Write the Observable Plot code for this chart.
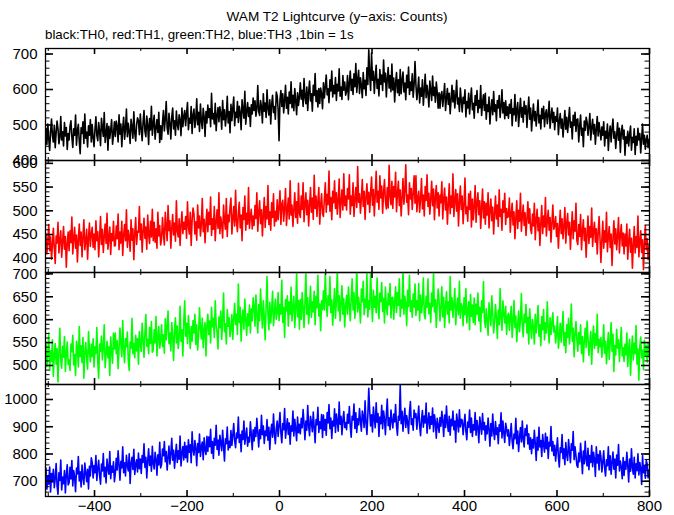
<!DOCTYPE html>
<html><head><meta charset="utf-8">
<script src="https://cdn.jsdelivr.net/npm/d3@7"></script>
<script src="https://cdn.jsdelivr.net/npm/@observablehq/plot@0.6"></script>
<style>
body{margin:0;background:#fff;}
#wrap{position:relative;width:674px;height:515px;background:#fff;overflow:hidden;font-family:"Liberation Sans",Arial,Helvetica,sans-serif;color:#000;}
#title{position:absolute;left:0;width:674px;top:10px;line-height:14px;text-align:center;font-size:13.6px;}
#sub{position:absolute;left:45px;top:28px;line-height:14px;font-size:13.3px;white-space:nowrap;}
</style></head>
<body><div id="wrap"><div id="title">WAM T2 Lightcurve (y−axis: Counts)</div><div id="sub">black:TH0, red:TH1, green:TH2, blue:TH3 ,1bin = 1s</div></div>
<script>
// time bins (s)
const tStart = -505, tEnd = 799;
const xDomain = [-506, 800];
const xMajor = [-400, -200, 0, 200, 400, 600, 800];
const xMinor = [-500, -300, -100, 100, 300, 500, 700];

// TH0 (black) counts
const th0 = [490,445,503,461,428,482,517,470,452,499,436,478,511,489,447,465,524,458,481,441,507,469,493,431,476,
458,497,512,466,437,489,471,528,443,484,502,455,419,492,476,509,448,531,463,480,438,498,471,515,452,
501,464,439,488,523,471,456,507,483,442,519,492,468,535,451,477,504,429,496,462,487,515,446,473,509,
468,511,497,452,529,474,503,439,491,522,460,488,545,467,505,481,448,516,494,463,537,478,455,501,520,
512,473,531,489,456,508,541,482,467,525,499,445,518,486,553,471,504,527,460,492,515,479,536,451,498,
459,507,541,483,516,566,492,474,533,505,461,522,548,489,512,471,539,501,487,529,513,470,548,495,524,
541,498,532,563,487,519,505,552,476,528,545,493,517,574,501,536,482,559,511,490,547,523,468,538,506,
556,521,546,495,589,517,532,503,561,484,527,549,509,551,532,488,569,515,543,497,524,581,506,538,478,
558,512,547,579,498,536,521,566,507,553,534,487,571,543,519,595,502,538,563,524,549,496,557,531,576,
541,568,525,547,611,538,527,569,551,506,588,539,562,521,599,546,528,571,503,557,584,535,552,516,593,
582,543,456,571,597,552,588,534,569,612,547,578,531,593,561,622,549,584,540,603,568,529,591,555,579,
619,573,598,552,631,578,560,607,541,593,624,568,588,539,612,583,645,566,597,551,603,561,604,587,546,
619,576,608,641,585,602,563,627,596,652,579,611,588,634,569,615,596,658,581,607,572,639,598,621,584,
595,639,571,618,652,597,629,586,644,608,673,592,627,654,589,633,611,577,648,602,626,583,661,614,712,
641,597,703,626,651,589,634,668,603,629,582,656,615,641,597,683,621,646,579,631,662,604,639,594,672,
599,632,565,618,648,591,627,583,656,588,627,649,593,618,571,640,605,663,586,621,597,644,578,613,679,
612,571,599,635,562,604,581,627,556,598,643,577,612,589,551,624,597,569,638,583,606,564,621,592,547,
591,547,585,594,552,583,617,541,576,603,558,589,532,571,612,565,597,548,581,626,559,576,538,604,569,
537,578,561,599,523,566,548,589,531,572,604,543,561,519,583,556,597,535,569,548,611,527,563,585,541,
589,516,557,538,579,503,546,571,529,594,538,557,512,569,548,583,521,552,599,534,563,518,568,527,551,
519,558,533,572,498,546,529,586,511,541,563,496,537,575,522,549,508,567,531,554,493,541,579,516,548,
483,525,559,512,538,497,531,570,506,527,489,546,518,553,495,532,543,504,529,567,491,522,548,507,536,
487,524,511,548,473,509,532,491,517,466,503,541,488,522,479,513,549,494,508,461,527,499,536,482,515,
517,452,496,528,471,491,439,511,485,522,509,471,497,532,458,493,516,475,501,446,488,524,469,507,483,
458,494,471,509,441,482,463,503,428,476,497,452,489,517,463,481,434,472,506,457,491,423,478,499,461,
486,415,467,449,482,441,473,497,429,465,451,489,417,468,443,491,458,476,421,462,503,446,471,432,458,
471,436,458];

// TH1 (red) counts
const th1 = [452,409,437,471,416,445,398,428,463,421,389,447,432,476,411,439,458,402,435,467,419,446,381,431,455,
416,458,433,487,409,442,465,421,449,392,438,472,427,455,403,446,481,418,436,461,398,443,474,425,451,
465,423,451,418,479,437,456,403,444,488,429,461,412,447,472,431,495,419,443,466,408,452,437,478,426,
427,468,441,493,418,455,432,478,406,449,471,437,502,423,459,444,415,481,438,462,397,451,486,429,457,
455,509,439,472,413,458,484,442,466,419,491,451,431,478,445,503,437,476,434,462,421,497,447,469,428,
441,486,452,428,497,466,437,511,458,479,421,463,492,449,474,436,521,457,445,483,427,469,498,452,476,
461,488,442,519,468,451,497,427,479,506,493,451,477,438,512,464,489,447,471,526,456,482,433,474,503,
456,497,471,529,448,483,461,509,437,476,502,463,538,452,487,471,443,512,479,461,526,446,491,477,508,
527,451,484,509,468,543,477,456,496,518,464,491,437,507,482,531,459,495,472,549,463,488,503,462,489,
469,511,484,538,457,496,521,473,502,447,491,528,465,509,483,553,471,498,459,517,486,536,468,499,478,
523,481,508,542,471,514,522,478,506,547,469,501,527,483,563,491,512,467,503,538,486,519,474,558,495,
486,531,503,559,477,514,538,492,522,468,511,549,497,527,482,575,505,531,488,519,549,472,513,536,494,
488,526,559,497,535,513,584,499,528,481,541,517,563,505,538,493,521,567,486,519,544,502,578,511,531,
502,547,525,576,493,531,511,559,488,523,549,507,593,518,536,495,527,566,509,541,482,529,557,514,539,
497,538,571,512,545,489,534,583,518,541,503,574,527,552,495,538,566,521,504,549,506,596,531,513,562,
505,551,529,581,498,536,562,511,544,489,527,568,514,541,597,518,533,492,559,525,547,503,536,574,516,
574,498,527,541,497,526,568,504,533,489,551,522,576,509,537,493,524,562,511,546,481,529,553,506,538,
489,533,517,561,483,524,548,502,529,472,515,557,494,531,507,578,488,521,545,499,536,468,518,552,503,
531,473,512,569,494,508,478,536,503,541,466,525,481,509,553,476,516,538,492,521,463,507,546,485,519,
472,516,491,538,464,502,525,479,508,451,495,531,483,512,467,544,488,503,459,521,497,537,471,505,486,
489,527,455,493,516,470,498,441,485,521,463,501,478,537,457,488,512,469,496,448,483,519,474,504,461,
452,493,468,516,439,481,503,458,486,427,473,511,452,489,466,528,447,479,501,459,486,434,475,512,461,
469,488,446,473,421,465,501,452,483,441,468,507,432,472,494,449,476,419,461,498,441,479,457,516,437,
429,471,446,492,418,457,481,437,463,402,451,489,431,467,444,506,425,458,476,434,462,409,453,488,441,
391,439,478,421,458,434,497,414,446,467,423,451,385,441,479,430,462,418,447,486,411,449,471,426,453,
409,451,426,472,398,437,461,413,442,379,428,467,411,446,423,489,403,435,458,412,439,376,431,469,418,
441,397,426];

// TH2 (green) counts
const th2 = [547,498,526,571,489,532,509,556,476,521,548,503,537,464,529,581,511,494,542,518,563,487,526,551,502,
512,489,547,530,566,501,524,478,553,538,497,585,519,543,506,561,472,529,550,515,492,574,533,508,546,
519,558,497,541,526,583,508,472,547,531,564,512,538,589,495,524,553,517,541,478,562,529,505,571,536,
571,526,554,493,538,582,547,519,598,534,506,559,541,573,512,489,551,537,603,526,548,517,566,532,559,
503,574,547,531,592,559,518,569,611,542,557,526,583,548,596,529,534,578,549,607,521,562,585,538,556,
589,541,567,527,602,556,583,619,548,571,532,594,565,511,577,604,549,586,537,561,629,553,578,521,596,
641,564,592,548,609,573,537,585,553,598,571,612,546,589,534,567,626,581,558,603,539,577,594,521,586,
612,568,597,549,627,584,603,561,641,589,572,536,606,583,619,557,599,658,574,591,547,622,586,604,563,
582,611,557,603,636,589,612,568,678,594,627,553,604,621,579,645,598,566,613,587,632,571,624,597,648,
629,586,654,611,571,633,598,667,619,582,641,603,556,627,694,611,578,638,593,621,662,587,614,645,601,
617,659,598,633,612,686,594,627,561,644,619,652,586,639,612,671,597,628,651,583,624,703,606,642,579,
644,601,659,628,583,637,705,612,648,591,627,673,605,639,617,662,589,651,626,697,608,634,576,641,622,
663,621,706,638,607,652,631,694,615,643,588,629,668,603,641,711,619,652,597,637,674,612,646,584,631,
653,612,671,634,598,646,689,621,659,603,638,716,617,649,628,593,667,639,684,611,645,626,701,606,641,
623,708,639,596,664,627,651,615,691,632,602,658,639,681,618,646,593,671,629,611,657,632,679,604,648,
649,601,638,672,616,659,631,689,607,643,625,713,612,651,634,587,664,629,697,618,641,605,656,627,678,
609,641,621,679,598,654,615,636,691,611,602,651,627,689,613,636,594,658,629,705,617,644,583,632,667,
641,597,628,672,606,649,583,627,661,612,639,593,694,621,648,605,633,668,589,626,647,611,684,603,635,
629,587,648,611,668,593,621,639,578,655,607,632,594,647,589,634,612,658,597,627,574,641,616,683,602,
583,624,598,566,637,609,587,652,614,571,596,633,605,559,621,589,668,602,577,641,612,593,629,568,607,
614,577,603,629,561,596,642,583,608,552,589,619,574,601,657,586,563,612,594,633,571,605,547,624,588,
559,601,583,547,612,571,596,631,564,589,543,607,578,622,556,593,571,639,582,549,604,568,591,615,573,
586,549,571,607,538,563,592,551,579,618,544,572,528,589,561,603,547,576,634,553,581,519,569,596,557,
531,572,547,589,526,563,508,554,581,539,597,561,522,548,574,503,559,586,537,569,544,612,528,557,541,
561,518,546,589,527,553,504,541,572,513,549,594,531,568,487,544,523,579,538,556,509,547,583,521,539,
509,546,523,571,498,538,557,479,531,564,512,549,526,587,503,536,468,541,562,517,533,491,555,522,544,
507,548,519];

// TH3 (blue) counts
const th3 = [748,671,719,689,752,661,728,697,744,676,709,765,684,652,731,703,778,668,715,691,739,657,724,760,686,
694,751,708,776,683,739,716,662,748,727,791,701,735,679,759,713,688,767,731,698,744,672,755,719,786,
769,712,758,731,794,703,746,777,721,689,763,738,802,717,751,694,781,745,726,809,709,756,733,771,698,
729,784,741,812,762,704,773,749,826,731,768,719,795,757,738,801,692,766,788,743,817,725,761,779,734,
803,746,781,729,794,769,837,751,788,712,774,819,758,792,737,828,764,745,806,781,722,797,760,843,749,
761,818,794,846,772,809,741,787,829,763,801,858,777,814,748,795,836,769,812,781,866,756,803,827,778,
843,786,829,771,852,807,834,768,881,815,796,849,822,757,838,806,873,791,826,844,779,859,813,798,865,
809,862,827,891,803,846,784,858,832,905,817,851,796,869,841,812,887,829,774,856,838,899,815,847,823,
886,831,869,912,848,823,877,859,936,842,871,808,884,853,921,836,867,895,829,861,844,918,872,816,889,
848,897,864,931,879,826,889,856,942,871,903,839,884,867,926,851,898,817,881,909,862,947,875,838,893,
921,864,903,952,876,841,912,889,967,858,897,929,872,914,836,903,884,958,866,927,891,849,936,878,909,
874,931,896,963,912,852,921,887,978,903,867,938,915,882,954,896,841,926,907,971,879,918,893,945,861,
943,887,926,869,952,914,981,893,932,857,921,903,966,879,947,918,884,991,909,938,871,924,956,897,915,
889,946,913,974,901,862,938,925,983,894,951,879,929,907,967,921,884,958,936,897,995,915,872,943,1041,
957,903,944,881,972,929,896,988,917,948,864,936,911,979,893,958,927,871,946,1002,904,933,889,961,922,
896,947,918,981,903,869,938,924,1052,911,957,884,932,968,897,941,916,875,953,992,908,929,887,961,934,
948,891,932,976,904,867,925,959,898,939,914,987,876,921,951,893,937,909,969,882,944,916,858,931,903,
879,934,902,957,921,864,943,897,976,912,883,938,869,927,904,958,889,921,843,947,916,881,962,899,927,
924,871,909,946,883,852,917,898,961,879,932,864,907,888,952,869,923,897,841,936,904,873,948,889,915,
851,903,874,932,889,829,912,866,947,881,853,919,872,896,838,907,884,951,859,921,876,842,913,893,866,
889,831,868,912,847,819,873,856,931,838,884,809,862,897,844,921,853,826,893,868,906,837,874,818,859,
801,853,822,887,839,776,861,814,898,826,849,791,871,833,807,876,819,862,784,843,829,901,811,846,795,
832,774,816,859,789,752,823,806,871,783,819,761,842,797,776,853,809,768,837,814,882,779,826,793,758,
751,803,772,839,786,728,811,764,847,779,756,821,742,794,769,831,753,806,779,718,826,767,798,741,812,
789,734,771,812,748,719,779,757,826,741,793,726,768,807,744,781,712,796,759,835,738,774,753,709,787,
721,772,744,806,758,697,781,737,819,749,726,788,712,764,739,801,723,769,746,688,794,731,758,711,776,
763,712,741];

// panel y tick labels
const yLabels0 = [400, 500, 600, 700];
const yLabels1 = [400, 450, 500, 550, 600];
const yLabels2 = [500, 550, 600, 650, 700];
const yLabels3 = [700, 800, 900, 1000];

const wrap = document.getElementById("wrap");
const W = 674, ML = 45, MR = 25;
const plotW = W - ML - MR;
const fmt = d => d < 0 ? "\u2212" + Math.abs(d) : String(d);
const range = (a, b, s) => d3.range(a, b + s / 2, s);

function panel(cfg) {
  const {data, color, yDomain, yMajor, yMinorStep, top, bottom, last} = cfg;
  const mT = 10, mB = last ? 24 : 10;
  const h = bottom - top;
  const step = (tEnd - tStart) / (data.length - 1);
  const series = data.map((v, i) => ({t: tStart + i * step, v}));
  const lo = Math.ceil(yDomain[0] / yMinorStep) * yMinorStep;
  const yMinor = range(lo, yDomain[1], yMinorStep).filter(v => v <= yDomain[1]);
  const svg = Plot.plot({
    width: W, height: h + mT + mB,
    marginLeft: ML, marginRight: MR, marginTop: mT, marginBottom: mB,
    style: {background: "transparent", overflow: "visible", fontFamily: "'Liberation Sans', Arial, Helvetica, sans-serif"},
    x: {domain: xDomain, axis: null},
    y: {domain: yDomain, axis: null},
    marks: [
      Plot.line(series, {x: "t", y: "v", stroke: color, strokeWidth: 1.6, clip: true}),
      Plot.tickY(yMinor, {y: d => d, insetRight: plotW - 4.5, strokeWidth: 1}),
      Plot.tickY(yMinor, {y: d => d, insetLeft: plotW - 4.5, strokeWidth: 1}),
      Plot.tickY(yMajor, {y: d => d, insetRight: plotW - 8, strokeWidth: 1.6}),
      Plot.tickY(yMajor, {y: d => d, insetLeft: plotW - 8, strokeWidth: 1.6}),
      Plot.tickX(xMinor, {x: d => d, insetTop: h - 3, strokeWidth: 1}),
      Plot.tickX(xMinor, {x: d => d, insetBottom: h - 3, strokeWidth: 1}),
      Plot.tickX(xMajor, {x: d => d, insetTop: h - 6, strokeWidth: 1.6}),
      Plot.tickX(xMajor, {x: d => d, insetBottom: h - 6, strokeWidth: 1.6}),
      Plot.frame({stroke: "#000", strokeWidth: 1.3}),
      Plot.text(yMajor, {y: d => d, text: d => fmt(d), frameAnchor: "left", dx: -8, textAnchor: "end", fontSize: 15}),
      last ? Plot.text(xMajor, {x: d => d, text: d => fmt(d), frameAnchor: "bottom", dy: 4, lineAnchor: "top", fontSize: 15}) : null
    ]
  });
  svg.style.position = "absolute";
  svg.style.left = "0px";
  svg.style.top = (top - mT) + "px";
  wrap.appendChild(svg);
}

panel({data: th0, color: "#000000", yDomain: [400, 715.5], yMajor: yLabels0, yMinorStep: 20, top: 48, bottom: 160});
panel({data: th1, color: "#ff0000", yDomain: [370, 606], yMajor: yLabels1, yMinorStep: 10, top: 160, bottom: 272});
panel({data: th2, color: "#00ff00", yDomain: [458.5, 703], yMajor: yLabels2, yMinorStep: 10, top: 272, bottom: 384});
panel({data: th3, color: "#0000ff", yDomain: [644, 1055], yMajor: yLabels3, yMinorStep: 20, top: 384, bottom: 496, last: true});
</script></body></html>
